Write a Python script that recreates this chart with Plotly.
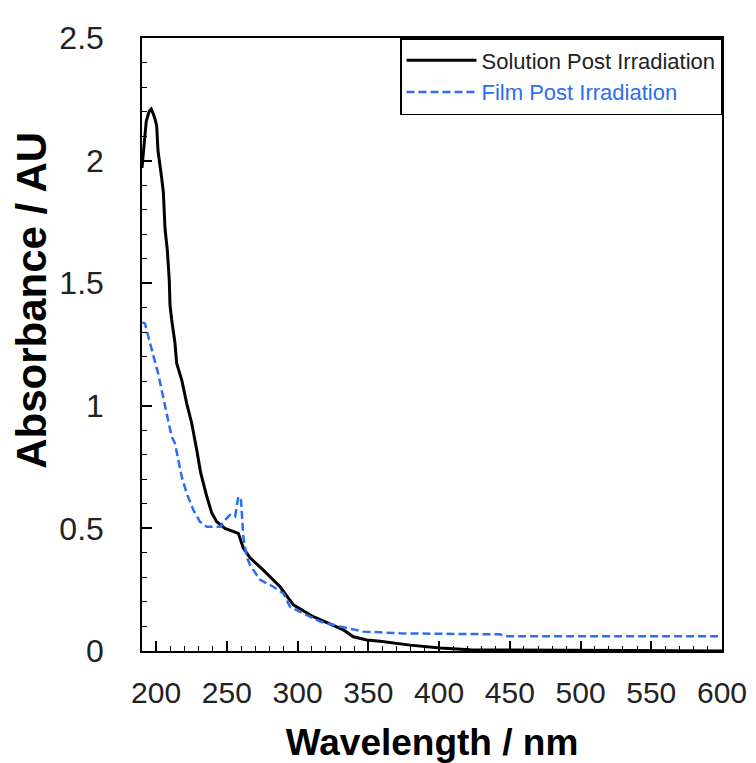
import plotly.graph_objects as go

# Solution Post Irradiation (black solid)
sol_x = [190, 191, 193, 195, 196.5, 198, 199.2, 200.4, 201.3, 203.9, 205.1, 206.3, 207.9, 209.3,
         209.8, 211.0, 213.3, 214.5, 218.1, 221.6, 225.1, 228.7, 231.5, 235.8, 239.3, 242.8,
         248.7, 258.1, 261.6, 266.4, 275.8, 287.6, 297.0, 311.1, 325.3, 332.4, 339.4, 348.9,
         358.3, 379.5, 400.7, 422, 533, 600]
sol_y = [1.97, 2.03, 2.16, 2.20, 2.21, 2.19, 2.17, 2.14, 2.04, 1.93, 1.87, 1.72, 1.635, 1.51,
         1.41, 1.35, 1.256, 1.174, 1.105, 1.01, 0.93, 0.82, 0.726, 0.63, 0.563, 0.527,
         0.50, 0.48, 0.42, 0.38, 0.33, 0.262, 0.188, 0.14, 0.106, 0.086, 0.058, 0.045,
         0.04, 0.024, 0.012, 0.005, 0.002, 0.0]

# Film Post Irradiation (blue dashed)
film_x = [190, 192.1, 195.7, 198.0, 201.5, 203.9, 206.3, 208.6, 211.0, 213.3, 215.7, 218.1,
          221.6, 226.3, 231.0, 235.8, 245.2, 248.7, 252.2, 255.8, 258.1, 260.0, 261.6, 264.0,
          266.4, 273.5, 282.9, 289.9, 294.7, 304.1, 315.9, 330.0, 346.5, 358.3, 372.5, 443,
          446.7, 600]
film_y = [1.34, 1.336, 1.255, 1.207, 1.13, 1.064, 0.996, 0.94, 0.874, 0.847, 0.78, 0.71,
          0.643, 0.575, 0.527, 0.507, 0.507, 0.534, 0.555, 0.548, 0.63, 0.616, 0.466, 0.385,
          0.35, 0.29, 0.262, 0.235, 0.18, 0.154, 0.12, 0.10, 0.079, 0.076, 0.072, 0.068,
          0.06, 0.06]

x_ticks = [200, 250, 300, 350, 400, 450, 500, 550, 600]
y_ticks = [0, 0.5, 1, 1.5, 2, 2.5]

BLUE = "#2B6EF2"
FONT = "Liberation Sans, Arial, sans-serif"

fig = go.Figure()
fig.add_trace(go.Scatter(x=sol_x, y=sol_y, mode="lines",
                         name="Solution Post Irradiation",
                         line=dict(color="black", width=3)))
fig.add_trace(go.Scatter(x=film_x, y=film_y, mode="lines",
                         name=f"<span style='color:{BLUE}'>Film Post Irradiation</span>",
                         line=dict(color=BLUE, width=2.5, dash="8px,4px")))

# page body has an 8px default margin: figure is 8px smaller, margins shifted accordingly
fig.update_layout(
    width=748, height=755,
    margin=dict(l=134, r=34, t=30, b=112, autoexpand=False),
    paper_bgcolor="white", plot_bgcolor="white",
    font=dict(family=FONT, color="#222"),
    legend=dict(x=1, y=1, xanchor="right", yanchor="top",
                bordercolor="black", borderwidth=1.5, bgcolor="white",
                font=dict(size=22, family=FONT, color="#222"),
                itemwidth=70, tracegroupgap=0),
    showlegend=True,
    annotations=[dict(text="<b>Absorbance / AU</b>", textangle=-90,
                      xref="paper", yref="paper", x=-0.190, y=0.5726,
                      xanchor="center", yanchor="middle", showarrow=False,
                      font=dict(size=42, family=FONT, color="black"))],
)
fig.update_xaxes(
    range=[190, 600], tickvals=x_ticks, ticktext=[str(v) for v in x_ticks],
    ticks="inside", ticklen=10, tickwidth=1.5, tickcolor="black",
    minor=dict(dtick=10, ticks="inside", ticklen=5, tickwidth=1.2, tickcolor="black"),
    showline=True, linecolor="black", linewidth=1.5, mirror=True,
    showgrid=False, zeroline=False, automargin=False,
    tickfont=dict(size=30, family=FONT, color="#222"),
    ticklabelstandoff=14,
    title=dict(text="<b>Wavelength / nm</b>", font=dict(size=37, family=FONT, color="black"),
               standoff=23),
)
fig.update_yaxes(
    range=[0, 2.5], tickvals=y_ticks, ticktext=["0", "0.5", "1", "1.5", "2", "2.5"],
    ticks="inside", ticklen=10, tickwidth=1.5, tickcolor="black",
    minor=dict(dtick=0.1, ticks="inside", ticklen=5, tickwidth=1.2, tickcolor="black"),
    showline=True, linecolor="black", linewidth=1.5, mirror=True,
    showgrid=False, zeroline=False, automargin=False,
    tickfont=dict(size=32, family=FONT, color="#222"),
    ticklabelstandoff=30,
)

fig.write_html("out.html")
